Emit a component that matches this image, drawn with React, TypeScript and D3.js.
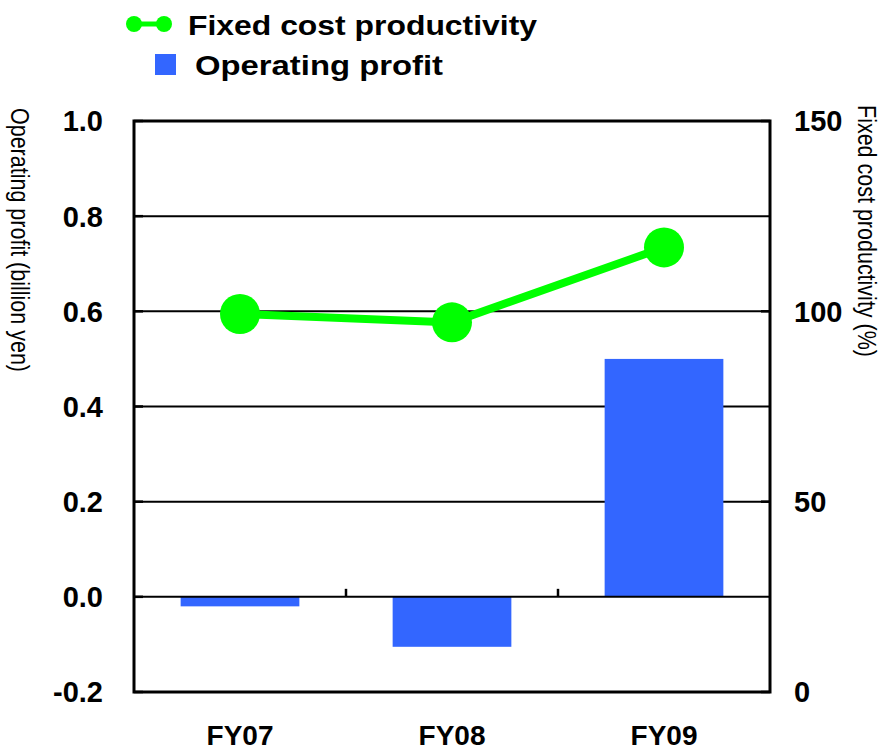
import React from "react";
import * as d3 from "d3";

const categories = ["FY07", "FY08", "FY09"];
const operatingProfit = [-0.02, -0.105, 0.5];
const fixedCostProductivity = [99.3, 97.1, 116.8];
const leftTicks = [-0.2, 0.0, 0.2, 0.4, 0.6, 0.8, 1.0];
const rightTicks = [0, 50, 100, 150];

const W = 890;
const H = 750;
const X0 = 134;
const X1 = 770;
const Y0 = 692;
const Y1 = 121;
const FONT = "'Liberation Sans', Arial, sans-serif";

export default function App() {
  const x = d3.scaleBand<string>().domain(categories).range([X0, X1]).paddingInner(0.44).paddingOuter(0.22);
  const step = x.step();
  const yL = d3.scaleLinear().domain([-0.2, 1.0]).range([Y0, Y1]);
  const yR = d3.scaleLinear().domain([0, 150]).range([Y0, Y1]);
  const lineGen = d3
    .line<number>()
    .x((_, i) => (x(categories[i]) as number) + x.bandwidth() / 2)
    .y((d) => yR(d));
  const boundaries = categories.map((_, i) => X0 + step * (i + 1)).slice(0, -1);

  return (
    <svg width={W} height={H} style={{ position: "absolute", left: 0, top: 0, background: "#fff" }}>
      <rect x={0} y={0} width={W} height={H} fill="#fff" />
      {/* gridlines */}
      {leftTicks
        .filter((t) => t > -0.2 && t < 1.0 && t !== 0)
        .map((t) => (
          <line key={"g" + t} x1={X0} x2={X1} y1={yL(t)} y2={yL(t)} stroke="#000" strokeWidth={2} />
        ))}
      {/* bars */}
      {operatingProfit.map((v, i) => (
        <rect
          key={"b" + i}
          x={x(categories[i])}
          width={x.bandwidth()}
          y={Math.min(yL(v), yL(0))}
          height={Math.abs(yL(v) - yL(0))}
          fill="#3366ff"
        />
      ))}
      {/* zero line and category ticks */}
      <line x1={X0} x2={X1} y1={yL(0)} y2={yL(0)} stroke="#000" strokeWidth={2} />
      {boundaries.map((b, i) => (
        <line key={"ct" + i} x1={b} x2={b} y1={yL(0)} y2={yL(0) - 8} stroke="#000" strokeWidth={2.5} />
      ))}
      {/* axis ticks inward */}
      {leftTicks.map((t) => (
        <line key={"lt" + t} x1={X0} x2={X0 + 9} y1={yL(t)} y2={yL(t)} stroke="#000" strokeWidth={2.5} />
      ))}
      {rightTicks.map((t) => (
        <line key={"rt" + t} x1={X1 - 9} x2={X1} y1={yR(t)} y2={yR(t)} stroke="#000" strokeWidth={2.5} />
      ))}
      {/* frame */}
      <rect x={X0} y={Y1} width={X1 - X0} height={Y0 - Y1} fill="none" stroke="#000" strokeWidth={3} />
      {/* line series */}
      <path d={lineGen(fixedCostProductivity) || ""} fill="none" stroke="#00ff00" strokeWidth={8} />
      {fixedCostProductivity.map((v, i) => (
        <circle
          key={"c" + i}
          cx={(x(categories[i]) as number) + x.bandwidth() / 2}
          cy={yR(v)}
          r={20}
          fill="#00ff00"
        />
      ))}
      {/* left tick labels */}
      {leftTicks.map((t) => (
        <text
          key={"ll" + t}
          x={103}
          y={yL(t)}
          dy="0.36em"
          textAnchor="end"
          fontFamily={FONT}
          fontWeight="bold"
          fontSize={29}
          fill="#000"
        >
          {t.toFixed(1)}
        </text>
      ))}
      {/* right tick labels */}
      {rightTicks.map((t) => (
        <text
          key={"rl" + t}
          x={794}
          y={yR(t)}
          dy="0.36em"
          textAnchor="start"
          fontFamily={FONT}
          fontWeight="bold"
          fontSize={29}
          fill="#000"
        >
          {t}
        </text>
      ))}
      {/* category labels */}
      {categories.map((c) => (
        <text
          key={"cl" + c}
          x={(x(c) as number) + x.bandwidth() / 2}
          y={745}
          textAnchor="middle"
          fontFamily={FONT}
          fontWeight="bold"
          fontSize={28}
          fill="#000"
        >
          {c}
        </text>
      ))}
      {/* axis titles */}
      <text
        transform="translate(11,108) rotate(90)"
        fontFamily={FONT}
        fontSize={25}
        textLength={264}
        lengthAdjust="spacingAndGlyphs"
        fill="#000"
      >
        Operating profit (billion yen)
      </text>
      <text
        transform="translate(858,105) rotate(90)"
        fontFamily={FONT}
        fontSize={25}
        textLength={252}
        lengthAdjust="spacingAndGlyphs"
        fill="#000"
      >
        Fixed cost productivity (%)
      </text>
      {/* legend */}
      <line x1={134} x2={164} y1={24} y2={24} stroke="#00ff00" strokeWidth={5} />
      <circle cx={134} cy={24} r={8} fill="#00ff00" />
      <circle cx={164} cy={24} r={8} fill="#00ff00" />
      <text
        x={188}
        y={35}
        fontFamily={FONT}
        fontWeight="bold"
        fontSize={28}
        textLength={349}
        lengthAdjust="spacingAndGlyphs"
        fill="#000"
      >
        Fixed cost productivity
      </text>
      <rect x={155} y={54} width={21} height={21} fill="#3366ff" />
      <text
        x={195}
        y={75}
        fontFamily={FONT}
        fontWeight="bold"
        fontSize={28}
        textLength={248}
        lengthAdjust="spacingAndGlyphs"
        fill="#000"
      >
        Operating profit
      </text>
    </svg>
  );
}
